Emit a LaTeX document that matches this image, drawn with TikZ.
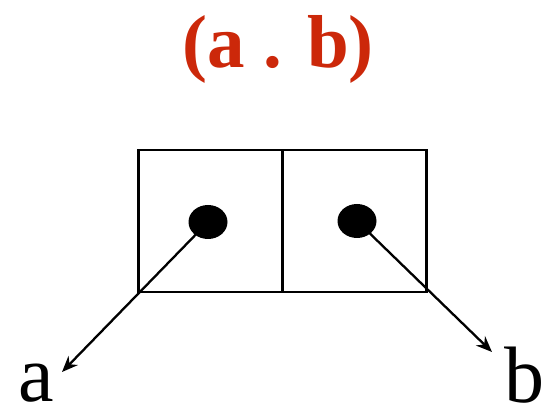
\documentclass[tikz,border=0pt]{standalone}
\usepackage{fontspec}
\setmainfont{Liberation Serif}
\usetikzlibrary{shapes.geometric,arrows.meta}
\definecolor{titlered}{RGB}{204,40,10}
\begin{document}
\begin{tikzpicture}[x=1pt,y=-1pt,
  cell/.style={draw,line width=2.6pt,minimum width=144pt,minimum height=142pt,inner sep=0pt},
  dot/.style={ellipse,fill=black,minimum width=39pt,minimum height=34pt,inner sep=0pt},
  ptr/.style={line width=2.3pt,-{Stealth[length=16pt,width=13pt]}},
  letter/.style={font=\fontsize{80}{80}\selectfont,anchor=base,inner sep=0pt}]
\useasboundingbox (0,0) rectangle (547,409);
\node[font=\fontsize{75}{75}\selectfont\bfseries,text=titlered,anchor=base,inner sep=0pt] (title) at (278,68) {(a . b)};
\node[cell] (car) at (210.5,221) {};
\node[cell] (cdr) at (354.5,221) {};
\node[dot] (d1) at (208,222) {};
\node[dot] (d2) at (357,221) {};
\coordinate (ta) at (62,372);
\coordinate (tb) at (492,352);
\node[letter] (a) at (36,401) {a};
\node[letter] (b) at (524,402) {b};
\draw[ptr] (d1.center) -- (ta);
\draw[ptr] (d2.center) -- (tb);
\end{tikzpicture}
\end{document}
